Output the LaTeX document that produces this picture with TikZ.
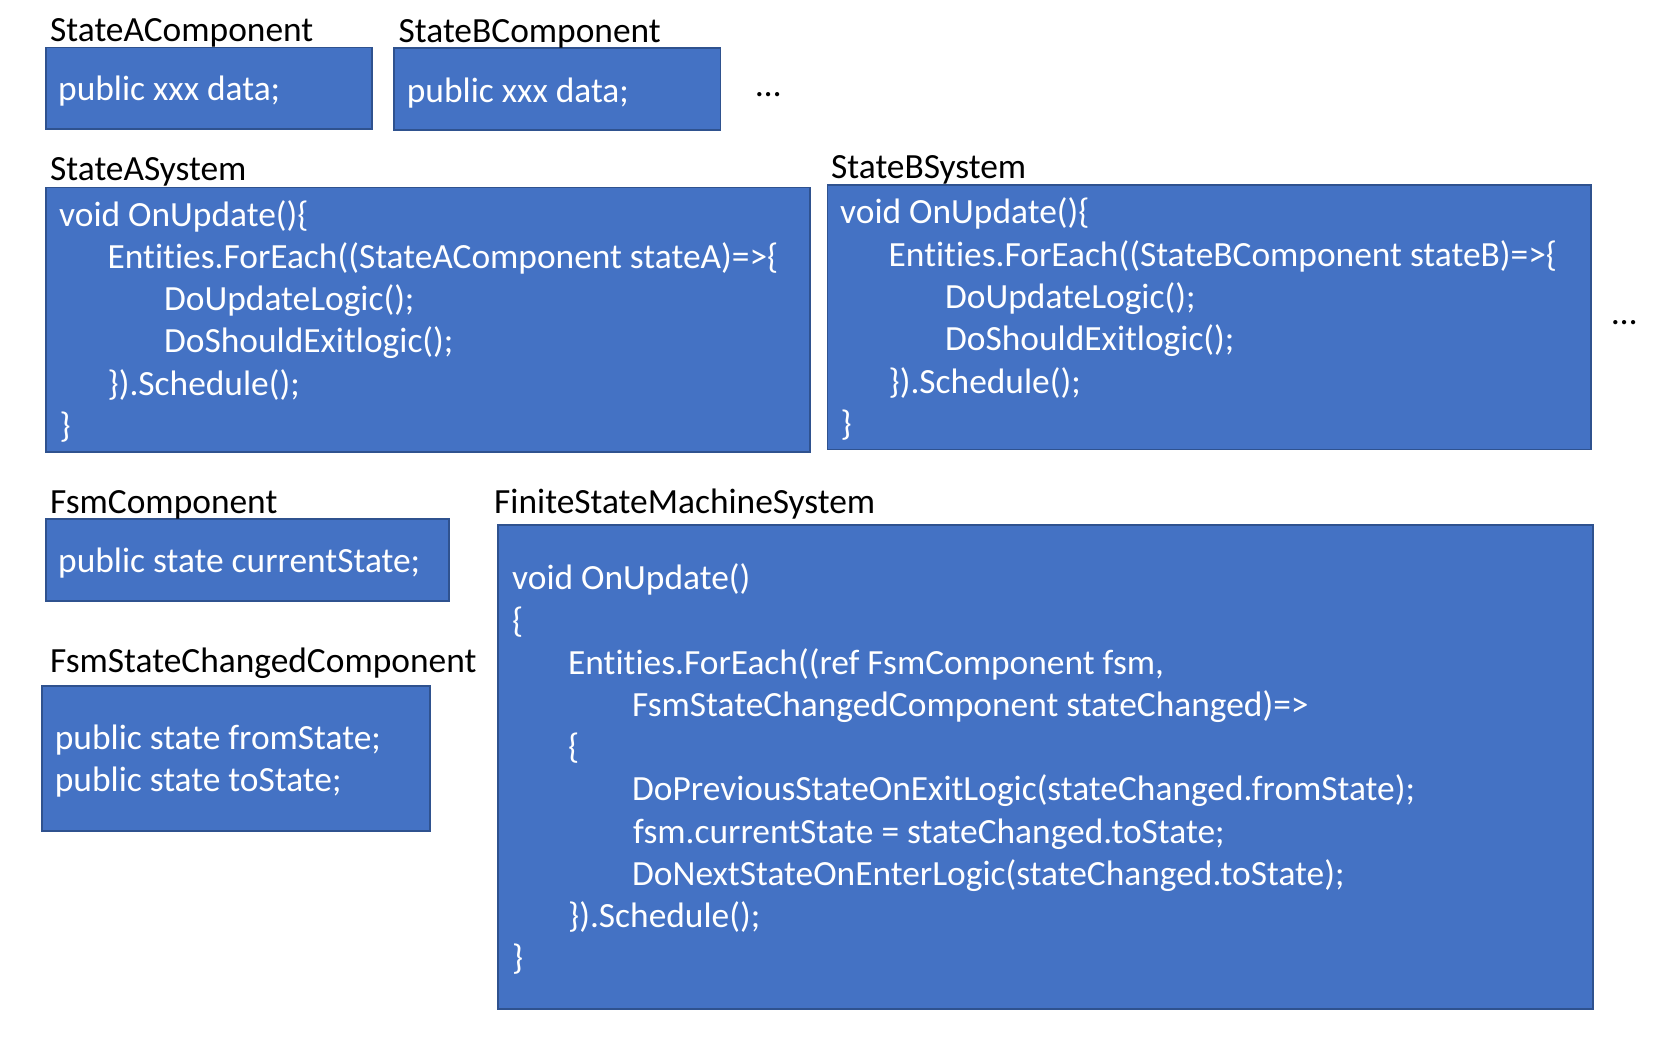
\documentclass[tikz,border=0pt]{standalone}
\usepackage{fontspec}
\setmainfont{Carlito}[Ligatures=NoCommon]
\definecolor{boxfill}{HTML}{4472C4}
\definecolor{boxedge}{HTML}{2F528F}
\newcommand\codefont{\fontsize{35.4}{42}\selectfont}
\begin{document}
\begin{tikzpicture}[x=1pt,y=-1pt,
  box/.style={draw=boxedge, fill=boxfill, line width=1.6pt, anchor=north west, inner sep=0pt},
  lbl/.style={anchor=base west, inner sep=0pt, text=black, font=\codefont, yshift=-2.5pt},
  code/.style={anchor=base west, inner sep=0pt, text=white, font=\codefont, yshift=-2.5pt}]
\useasboundingbox (0,0) rectangle (1660,1037);

% ---- boxes ----
\node[box, minimum width=326pt, minimum height=81.6pt] (sacbox) at (45.3,46.7) {};
\node[box, minimum width=326.4pt, minimum height=82pt] (sbcbox) at (393.3,47.3) {};
\node[box, minimum width=764pt, minimum height=264.3pt] (sasbox) at (45.3,186.7) {};
\node[box, minimum width=763.3pt, minimum height=264.4pt] (sbsbox) at (826.7,184.3) {};
\node[box, minimum width=403pt, minimum height=81.8pt] (fsmcbox) at (45.3,518.4) {};
\node[box, minimum width=388pt, minimum height=145pt] (fsccbox) at (41.3,685) {};
\node[box, minimum width=1095pt, minimum height=483.7pt] (fsmsbox) at (497.3,524.3) {};

% ---- titles ----
\node[lbl] (saclbl) at (50,39.3) {StateAComponent};
\node[lbl] (sbclbl) at (398.5,40) {StateBComponent};
\node[lbl] (saslbl) at (50,177.7) {StateASystem};
\node[lbl] (sbslbl) at (831,176) {StateBSystem};
\node[lbl] (fsmclbl) at (50,510.7) {FsmComponent};
\node[lbl] (fscclbl) at (50,670) {FsmStateChangedComponent};
\node[lbl] (fsmslbl) at (494,510.7) {FiniteStateMachineSystem};

\node[lbl] (dotsa) at (756,94.3) {…};
\node[lbl] (dotsb) at (1612,321.7) {…};

% ---- component texts ----
\node[code] (sactext) at (58,98.3) {public xxx data;};
\node[code] (sbctext) at (406.7,100) {public xxx data;};
\node[code] (fsmctext) at (58,570) {public state currentState;};
\node[code] (fscctexta) at (54.7,746.5) {public state fromState;};
\node[code] (fscctextb) at (54.7,788.7) {public state toState;};

% ---- StateASystem code ----
\node[code] (sa1) at (59,223.5) {void OnUpdate()\{};
\node[code] (sa2) at (107.5,265.8) {Entities.ForEach((StateAComponent stateA)=>\{};
\node[code] (sa3) at (164,308.1) {DoUpdateLogic();};
\node[code] (sa4) at (164,350.4) {DoShouldExitlogic();};
\node[code] (sa5) at (107.5,392.7) {\}).Schedule();};
\node[code] (sa6) at (59.5,435) {\}};

% ---- StateBSystem code ----
\node[code] (sb1) at (840,221.3) {void OnUpdate()\{};
\node[code] (sb2) at (888.5,263.6) {Entities.ForEach((StateBComponent stateB)=>\{};
\node[code] (sb3) at (945,305.9) {DoUpdateLogic();};
\node[code] (sb4) at (945,348.2) {DoShouldExitlogic();};
\node[code] (sb5) at (888.5,390.5) {\}).Schedule();};
\node[code] (sb6) at (840.5,432.8) {\}};

% ---- FiniteStateMachineSystem code ----
\node[code] (fs1) at (512,587.3) {void OnUpdate()};
\node[code] (fs2) at (512,629.5) {\{};
\node[code] (fs3) at (568,671.7) {Entities.ForEach((ref FsmComponent fsm,};
\node[code] (fs4) at (632,714) {FsmStateChangedComponent stateChanged)=>};
\node[code] (fs5) at (568,756.2) {\{};
\node[code] (fs6) at (632,798.4) {DoPreviousStateOnExitLogic(stateChanged.fromState);};
\node[code] (fs7) at (633,840.6) {fsm.currentState = stateChanged.toState;};
\node[code] (fs8) at (632,882.8) {DoNextStateOnEnterLogic(stateChanged.toState);};
\node[code] (fs9) at (568,925) {\}).Schedule();};
\node[code] (fs10) at (512,967.2) {\}};
\end{tikzpicture}
\end{document}
